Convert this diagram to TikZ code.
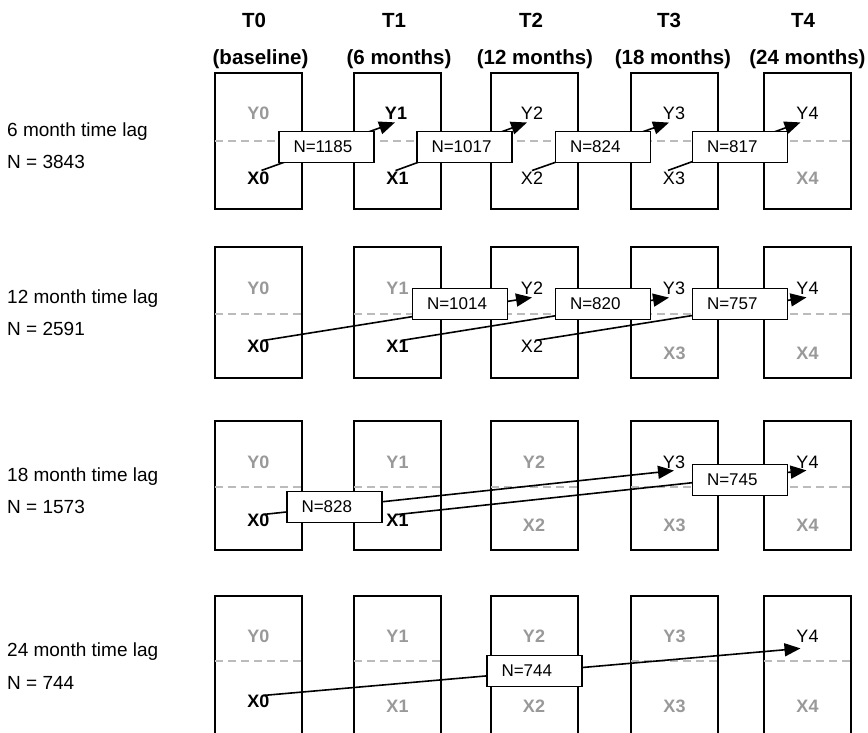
\documentclass[tikz,border=0pt]{standalone}
\usepackage{fontspec}
\setmainfont{Liberation Sans}
\usetikzlibrary{arrows.meta,calc}
\definecolor{lbgray}{HTML}{999999}
\definecolor{dashgray}{HTML}{BBBBBB}
\begin{document}
\begin{tikzpicture}[x=1pt,y=-1pt,
  frame/.style={draw=black, line width=1.5pt},
  midline/.style={draw=dashgray, line width=1.5pt, dash pattern=on 8pt off 5pt},
  act/.style={font=\fontsize{18}{20}\selectfont\bfseries, inner sep=1pt},
  reg/.style={font=\fontsize{18}{20}\selectfont, inner sep=1pt},
  off/.style={font=\fontsize{18}{20}\selectfont\bfseries, text=lbgray, inner sep=1pt},
  head/.style={font=\fontsize{20.5}{23}\selectfont\bfseries, anchor=base, inner sep=0pt},
  rowlab/.style={font=\fontsize{19}{22}\selectfont, anchor=base west, inner sep=0pt},
  nbox/.style={draw=black, fill=white, line width=1.5pt, font=\fontsize{17}{19}\selectfont,
    text width=66pt, inner xsep=14.5pt, inner ysep=0pt, minimum height=31pt, align=left},
  link/.style={line width=1.6pt, -{Triangle[length=16pt,width=13pt]}}
]
\useasboundingbox (0,0) rectangle (868,732);
\clip (0,0) rectangle (868,732);

% headers
\node[head] (t0) at (254,27) {T0};
\node[head] (t1) at (394,27) {T1};
\node[head] (t2) at (531,27) {T2};
\node[head] (t3) at (669,27) {T3};
\node[head] (t4) at (803,27) {T4};
\node[head] (h0) at (260.5,64) {(baseline)};
\node[head] (h1) at (399,64) {(6 months)};
\node[head] (h2) at (535,64) {(12 months)};
\node[head] (h3) at (673,64) {(18 months)};
\node[head] (h4) at (807.5,64) {(24 months)};

% row labels
\node[rowlab] (la1) at (7,136) {6 month time lag};
\node[rowlab] (lb1) at (7,168) {N = 3843};
\node[rowlab] (la2) at (7,303) {12 month time lag};
\node[rowlab] (lb2) at (7,335) {N = 2591};
\node[rowlab] (la3) at (7,481) {18 month time lag};
\node[rowlab] (lb3) at (7,513) {N = 1573};
\node[rowlab] (la4) at (7,656) {24 month time lag};
\node[rowlab] (lb4) at (7,689) {N = 744};

% boxes and dashed lines
\foreach \l in {215,354,491,631,764} {
  \draw[frame] (\l,73) rectangle +(87,136);
  \draw[frame] (\l,247) rectangle +(87,131);
  \draw[frame] (\l,421) rectangle +(87,129);
  \draw[frame] (\l,745) -- (\l,596) -- (\l+87,596) -- (\l+87,745);
  \draw[midline] (\l,141) -- +(87,0);
  \draw[midline] (\l,314) -- +(87,0);
  \draw[midline] (\l,487) -- +(87,0);
  \draw[midline] (\l,661) -- +(87,0);
}

% row 1 labels
\node[off] (r1y0) at (258.5,113) {Y0};
\node[act] (r1y1) at (396,113) {Y1};
\node[reg] (r1y2) at (532,113) {Y2};
\node[reg] (r1y3) at (674,113) {Y3};
\node[reg] (r1y4) at (807.5,113) {Y4};
\node[act] (r1x0) at (258.5,178) {X0};
\node[act] (r1x1) at (397.5,178) {X1};
\node[reg] (r1x2) at (532,178) {X2};
\node[reg] (r1x3) at (674,178) {X3};
\node[off] (r1x4) at (807.5,178) {X4};

% row 2 labels
\node[off] (r2y0) at (258.5,288) {Y0};
\node[off] (r2y1) at (397.5,288) {Y1};
\node[reg] (r2y2) at (532,288) {Y2};
\node[reg] (r2y3) at (674,288) {Y3};
\node[reg] (r2y4) at (807.5,288) {Y4};
\node[act] (r2x0) at (258.5,346) {X0};
\node[act] (r2x1) at (397.5,346) {X1};
\node[reg] (r2x2) at (532,346) {X2};
\node[off] (r2x3) at (674.5,353) {X3};
\node[off] (r2x4) at (807.5,353) {X4};

% row 3 labels
\node[off] (r3y0) at (258.5,462) {Y0};
\node[off] (r3y1) at (397.5,462) {Y1};
\node[off] (r3y2) at (534,462) {Y2};
\node[reg] (r3y3) at (674,462) {Y3};
\node[reg] (r3y4) at (807.5,462) {Y4};
\node[act] (r3x0) at (258.5,520) {X0};
\node[act] (r3x1) at (397.5,520) {X1};
\node[off] (r3x2) at (534,525) {X2};
\node[off] (r3x3) at (674.5,525) {X3};
\node[off] (r3x4) at (807.5,525) {X4};

% row 4 labels
\node[off] (r4y0) at (258.5,636) {Y0};
\node[off] (r4y1) at (397.5,636) {Y1};
\node[off] (r4y2) at (534,636) {Y2};
\node[off] (r4y3) at (674.5,636) {Y3};
\node[reg] (r4y4) at (807.5,636) {Y4};
\node[act] (r4x0) at (258.5,701) {X0};
\node[off] (r4x1) at (397.5,706) {X1};
\node[off] (r4x2) at (534,706) {X2};
\node[off] (r4x3) at (674.5,706) {X3};
\node[off] (r4x4) at (807.5,706) {X4};

% connectors
\draw[link] ($(r1x0.north)+(3,0)$) -- ($(r1y1.south)+(-1,2)$);
\draw[link] ($(r1x1.north)+(-2,0)$) -- ($(r1y2.south)+(-5,2)$);
\draw[link] ($(r1x2.north)+(0,0)$) -- ($(r1y3.south)+(-5,2)$);
\draw[link] ($(r1x3.north)+(-6,0)$) -- ($(r1y4.south)+(-7,2)$);

\draw[link] ($(r2x0.north)+(5,2)$) -- ($(r2y2.south)+(0,2)$);
\draw[link] ($(r2x1.north)+(3,2)$) -- ($(r2y3.south)+(-5,2)$);
\draw[link] ($(r2x2.north)+(3,2)$) -- ($(r2y4.south)+(-1,2)$);

\draw[link] ($(r3x0.north)+(5,2)$) -- ($(r3y3.south)+(0,1)$);
\draw[link] ($(r3x1.north)+(-1,2)$) -- ($(r3y4.south)+(-1,1)$);

\draw[link] ($(r4x0.north)+(5,2)$) -- ($(r4y4.south)+(-7,5)$);

% N boxes
\node[nbox] (n11) at (326.5,147) {N=1185};
\node[nbox] (n12) at (464.5,147) {N=1017};
\node[nbox] (n13) at (603,147) {N=824};
\node[nbox] (n14) at (740,147) {N=817};
\node[nbox] (n21) at (460,304) {N=1014};
\node[nbox] (n22) at (603,304) {N=820};
\node[nbox] (n23) at (740,304) {N=757};
\node[nbox] (n31) at (334.5,507) {N=828};
\node[nbox] (n32) at (740,480) {N=745};
\node[nbox] (n41) at (534.5,671) {N=744};
\end{tikzpicture}
\end{document}
